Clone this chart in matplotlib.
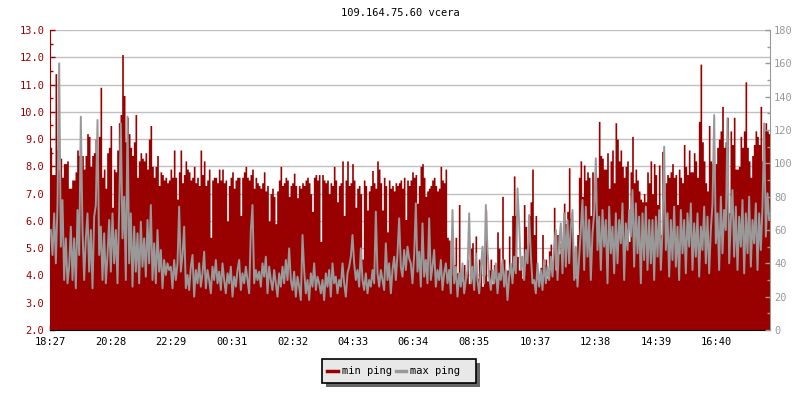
import numpy as np
import matplotlib
matplotlib.use('Agg')
import matplotlib.pyplot as plt
from matplotlib.patches import Rectangle
from matplotlib.lines import Line2D
from matplotlib.ticker import MultipleLocator, FormatStrFormatter

plt.rcParams['font.family'] = 'DejaVu Sans Mono'

RED = '#990000'
GREY = '#999999'

title = '109.164.75.60 vcera'
span_minutes = 1440
time_ticks = [0, 121, 242, 364, 485, 606, 727, 848, 970, 1091, 1212, 1333]
time_labels = ['18:27', '20:28', '22:29', '00:31', '02:32', '04:33',
               '06:34', '08:35', '10:37', '12:38', '14:39', '16:40']

# min ping, left axis (ms), one value per sample
min_ping = [
    8.7, 7.7, 7.7, 11.4, 8.6, 7.9, 8.3, 7.6, 8.1, 8.1, 8.2, 7.2, 7.2, 7.5, 7.5, 7.8, 8.6, 8.4,
    8.0, 8.4, 7.9, 8.4, 9.2, 9.1, 8.0, 8.4, 8.5, 9.0, 8.3, 9.1, 10.9, 7.6, 7.9, 7.2, 8.5, 8.7,
    9.5, 6.5, 7.9, 7.8, 8.6, 9.6, 9.9, 12.1, 10.6, 8.9, 9.8, 9.2, 8.7, 8.4, 8.9, 9.9, 7.6, 8.2,
    8.5, 8.3, 8.2, 8.5, 7.9, 9.0, 9.5, 8.0, 7.6, 8.0, 8.4, 7.3, 7.8, 7.7, 7.5, 7.6, 7.4, 7.5,

    7.9, 7.6, 8.6, 7.6, 6.8, 7.8, 8.6, 7.4, 7.7, 8.2, 7.9, 7.8, 7.5, 7.6, 8.0, 7.4, 7.6, 7.3,
    8.6, 7.7, 8.2, 7.3, 7.5, 7.9, 5.4, 7.5, 7.6, 7.6, 7.4, 7.9, 7.5, 7.9, 7.4, 7.5, 6.0, 7.3,
    7.6, 7.8, 7.2, 7.5, 7.6, 7.6, 6.2, 7.6, 7.8, 8.0, 7.6, 7.5, 7.7, 7.9, 7.2, 7.6, 7.4, 7.3,
    7.2, 7.4, 7.8, 7.1, 7.3, 6.0, 7.0, 7.2, 6.9, 5.9, 7.1, 7.5, 8.0, 7.3, 7.4, 7.6, 7.5, 6.9,

    7.3, 7.4, 7.75, 7.3, 6.85, 7.3, 7.2, 7.4, 7.3, 7.5, 7.6, 7.4, 7.0, 6.35, 7.6, 7.7, 7.5, 7.7,
    5.25, 7.7, 7.5, 7.4, 7.5, 7.0, 7.4, 7.3, 8.0, 7.5, 6.7, 7.3, 7.4, 8.2, 6.2, 7.5, 8.2, 7.3,
    7.4, 8.1, 7.5, 6.5, 7.2, 7.3, 7.0, 4.6, 7.5, 7.3, 6.4, 7.1, 7.3, 7.85, 7.4, 7.2, 8.2, 7.9,
    7.4, 6.4, 7.6, 7.3, 5.6, 7.5, 7.2, 7.3, 7.1, 7.4, 7.3, 7.4, 7.5, 7.2, 7.6, 6.05, 7.5, 7.3,

    7.5, 7.8, 7.6, 7.7, 6.65, 7.3, 8.0, 8.1, 7.6, 6.9, 7.1, 7.2, 7.3, 7.5, 7.6, 7.3, 7.1, 7.2,
    8.0, 7.5, 7.4, 7.9, 5.4, 5.3, 4.0, 5.1, 4.4, 5.4, 4.1, 6.6, 4.0, 3.8, 4.4, 3.9, 4.6, 3.7,
    5.0, 5.2, 4.0, 5.45, 3.9, 4.6, 4.5, 3.6, 4.0, 6.4, 3.8, 4.2, 4.6, 3.7, 4.4, 3.9, 5.6, 5.0,
    4.1, 6.9, 4.6, 3.8, 4.2, 5.45, 4.4, 6.2, 7.65, 6.2, 4.7, 4.2, 4.7, 3.9, 6.6, 5.8, 5.1, 6.2,

    6.7, 7.9, 5.5, 6.2, 4.2, 3.9, 4.3, 5.5, 4.4, 4.6, 3.9, 4.9, 5.15, 4.5, 6.5, 4.2, 5.5, 4.8,
    5.2, 5.3, 6.65, 5.9, 6.35, 7.95, 6.1, 5.6, 4.4, 3.9, 5.5, 7.6, 8.2, 6.9, 8.05, 7.5, 7.8, 7.6,
    6.2, 7.8, 6.7, 7.6, 7.6, 9.65, 8.4, 8.3, 7.9, 7.9, 8.5, 7.2, 8.2, 8.6, 7.4, 9.6, 9.0, 8.2,
    8.6, 8.0, 7.6, 8.0, 8.2, 5.25, 7.8, 9.1, 7.4, 7.9, 7.5, 7.1, 6.8, 6.7, 7.0, 6.7, 7.8, 7.4,

    8.2, 7.0, 8.1, 7.7, 6.6, 8.05, 5.5, 8.55, 7.1, 7.4, 7.7, 7.6, 7.8, 8.1, 7.6, 7.7, 6.6, 7.9,
    7.6, 7.4, 8.8, 8.0, 7.7, 8.6, 7.8, 7.8, 8.5, 8.2, 7.6, 9.65, 11.75, 8.9, 8.2, 7.4, 7.1, 9.5,
    8.2, 8.1, 7.8, 8.1, 8.7, 9.0, 9.3, 10.2, 8.7, 8.9, 9.8, 6.3, 9.3, 8.8, 9.8, 7.9, 7.9, 8.0,
    9.1, 8.7, 9.3, 11.1, 8.7, 8.2, 7.6, 8.4, 8.8, 9.3, 9.1, 8.8, 10.2, 8.2, 9.3, 9.6, 9.3, 9.2,
]

# max ping, right axis (ms)
max_ping = [
    60, 45, 70, 40, 75, 160, 50, 78, 30, 55, 28, 38, 62, 30, 55, 25, 72, 45,
    128, 60, 30, 55, 70, 35, 60, 25, 68, 75, 126, 45, 62, 30, 58, 28, 45, 66,
    35, 70, 40, 60, 28, 72, 124, 55, 80, 30, 128, 40, 70, 26, 62, 35, 58, 28,
    65, 38, 55, 32, 66, 40, 75, 30, 52, 28, 60, 35, 48, 25, 42, 33, 40, 36,

    38, 25, 42, 30, 40, 74, 35, 45, 62, 25, 33, 24, 38, 45, 20, 36, 28, 40,
    26, 34, 47, 25, 36, 30, 22, 38, 30, 42, 28, 35, 24, 40, 30, 22, 34, 28,
    38, 20, 32, 26, 36, 42, 24, 34, 28, 38, 30, 22, 60, 75, 28, 36, 30, 35,
    26, 40, 32, 44, 22, 38, 30, 24, 36, 28, 20, 34, 26, 38, 28, 42, 30, 49,

    30, 24, 35, 20, 32, 26, 18, 57, 36, 22, 30, 18, 34, 26, 40, 24, 32, 28,
    22, 30, 18, 34, 26, 36, 20, 40, 28, 32, 22, 30, 26, 40, 28, 20, 34, 38,
    44, 57, 40, 30, 36, 26, 49, 30, 24, 34, 22, 30, 26, 36, 28, 71, 34, 26,
    36, 30, 24, 52, 30, 40, 22, 36, 44, 30, 46, 67, 38, 32, 48, 36, 50, 43,

    40, 28, 45, 76, 35, 47, 26, 64, 32, 42, 28, 67, 30, 38, 48, 26, 36, 30,
    42, 24, 34, 40, 28, 36, 22, 72, 28, 38, 20, 34, 26, 40, 22, 30, 36, 70,
    28, 38, 24, 46, 30, 22, 36, 50, 28, 75, 48, 32, 24, 36, 28, 40, 22, 34,
    30, 42, 26, 36, 18, 32, 40, 28, 44, 34, 85, 64, 36, 44, 30, 48, 40, 69,

    45, 28, 30, 22, 40, 26, 36, 24, 42, 28, 38, 30, 44, 32, 50, 60, 30, 52,
    64, 34, 70, 38, 66, 40, 62, 72, 30, 50, 26, 44, 60, 78, 36, 74, 44, 66,
    30, 58, 70, 103, 48, 68, 36, 72, 50, 66, 28, 74, 46, 62, 34, 70, 40, 66,
    52, 76, 30, 64, 48, 72, 56, 84, 38, 76, 46, 68, 28, 70, 42, 74, 36, 66,

    40, 66, 30, 68, 44, 72, 36, 60, 110, 48, 70, 32, 66, 42, 74, 38, 62, 30,
    72, 46, 66, 34, 70, 50, 76, 36, 64, 44, 70, 32, 62, 48, 74, 40, 68, 34,
    60, 76, 129, 52, 70, 36, 80, 46, 72, 60, 127, 40, 66, 84, 44, 74, 36, 68,
    50, 78, 34, 70, 46, 80, 38, 66, 52, 76, 36, 70, 48, 74, 124, 56, 82, 66,
]

n = len(min_ping)
step = span_minutes / n
x = np.arange(n) * step

fig = plt.figure(figsize=(8, 4), dpi=100)
fig.patch.set_facecolor('white')
ax = fig.add_axes([50 / 800, 70 / 400, 720 / 800, 300 / 400])

# min ping as a filled step area from the bottom
ax.fill_between(np.append(x, span_minutes), 0, np.append(min_ping, min_ping[-1]),
                step='post', color=RED, linewidth=0, zorder=2)
ax.set_xlim(0, span_minutes)
ax.set_ylim(2, 13)
ax.yaxis.set_major_locator(MultipleLocator(1))
ax.yaxis.set_minor_locator(MultipleLocator(0.5))
ax.yaxis.set_major_formatter(FormatStrFormatter('%.1f'))
ax.grid(axis='y', which='major', color='#c0c0c0', linewidth=1)
ax.set_axisbelow(True)
ax.set_xticks(time_ticks)
ax.set_xticklabels(time_labels)

ax.tick_params(axis='y', which='major', direction='in', length=3.6, width=1,
               colors=RED, labelsize=7.5, pad=4)
ax.tick_params(axis='y', which='minor', direction='in', length=2.2, width=1, colors=RED)
ax.tick_params(axis='x', direction='in', length=3.6, width=1, colors='black',
               labelsize=7.5, pad=5)
ax.spines['top'].set_visible(False)
ax.spines['right'].set_visible(False)
ax.spines['left'].set_color(RED)
ax.spines['bottom'].set_color('black')

# max ping on the right axis, drawn over the red area
ax2 = ax.twinx()
ax2.plot(x + step / 2, max_ping, color=GREY, linewidth=1.4, zorder=3)
ax2.set_ylim(0, 180)
ax2.yaxis.set_major_locator(MultipleLocator(20))
ax2.yaxis.set_minor_locator(MultipleLocator(10))
ax2.tick_params(axis='y', which='major', direction='in', length=3.6, width=1,
                colors=GREY, labelsize=7.5, pad=3)
ax2.tick_params(axis='y', which='minor', direction='in', length=2.2, width=1, colors=GREY)
for side in ('top', 'left', 'bottom'):
    ax2.spines[side].set_visible(False)
ax2.spines['right'].set_color(GREY)

fig.text(0.5, 1 - 13 / 400, title, ha='center', va='center', fontsize=7.5, color='black')

# legend box with drop shadow
def px(xp, yp):
    return xp / 800, 1 - yp / 400

sx, sy = px(326, 387)
fig.add_artist(Rectangle((sx, sy), 154 / 800, 24 / 400, transform=fig.transFigure,
                         facecolor='#666666', edgecolor='none'))
bx, by = px(322, 383)
fig.add_artist(Rectangle((bx, by), 154 / 800, 24 / 400, transform=fig.transFigure,
                         facecolor='#e8e8e8', edgecolor='black', linewidth=1.2))
ly = px(0, 371)[1]
fig.add_artist(Line2D([327 / 800, 338 / 800], [ly, ly], transform=fig.transFigure,
                      color=RED, linewidth=2.5))
fig.text(342 / 800, ly, 'min ping', ha='left', va='center', fontsize=7.5)
fig.add_artist(Line2D([396 / 800, 406 / 800], [ly, ly], transform=fig.transFigure,
                      color=GREY, linewidth=2.5))
fig.text(410 / 800, ly, 'max ping', ha='left', va='center', fontsize=7.5)

fig.savefig('out.png', dpi=100)
